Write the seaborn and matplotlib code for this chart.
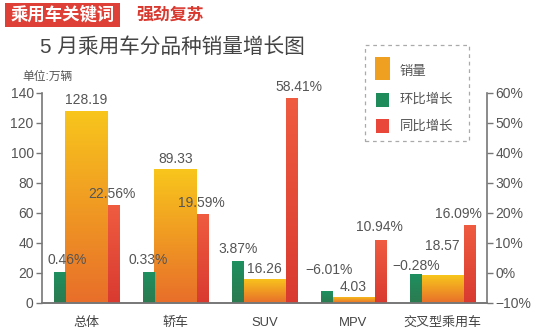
import numpy as np
import pandas as pd
import matplotlib
matplotlib.use("Agg")
import matplotlib.pyplot as plt
import seaborn as sns
from matplotlib.colors import LinearSegmentedColormap
from matplotlib.patches import Rectangle

categories = ["总体", "轿车", "SUV", "MPV", "交叉型乘用车"]
sales = [128.19, 89.33, 16.26, 4.03, 18.57]
mom = [0.46, 0.33, 3.87, -6.01, -0.28]
yoy = [22.56, 19.59, 58.41, 10.94, 16.09]
sales_labels = ["128.19", "89.33", "16.26", "4.03", "18.57"]
mom_labels = ["0.46%", "0.33%", "3.87%", "−6.01%", "−0.28%"]
yoy_labels = ["22.56%", "19.59%", "58.41%", "10.94%", "16.09%"]
left_ticks = [0, 20, 40, 60, 80, 100, 120, 140]
right_ticks = [-10, 0, 10, 20, 30, 40, 50, 60]
legend_names = ["销量", "环比增长", "同比增长"]

sns.set_theme(style="white")
plt.rcParams['font.family'] = ['Liberation Sans', 'Noto Sans CJK SC']
plt.rcParams['axes.unicode_minus'] = True

W, H = 550, 334
fig = plt.figure(figsize=(5.5, 3.34), dpi=100)
fig.patch.set_facecolor("white")

def fx(px):
    return px / W

def fy(py):
    return 1 - py / H

ax = fig.add_axes([fx(42), fy(303), fx(487) - fx(42), fy(93) - fy(303)])
ax2 = ax.twinx()

df = pd.DataFrame({"cat": categories, "sales": sales})
sns.barplot(data=df, x="cat", y="sales", ax=ax, width=0.475, color="#F0A020",
            saturation=1, edgecolor="none", errorbar=None)

xs = np.arange(len(categories))
gw = 0.124
gbars = ax2.bar(xs - 0.2995, np.array(mom) + 10, bottom=-10, width=gw, color="#1F8A5A", edgecolor="none")
rbars = ax2.bar(xs + 0.2995, np.array(yoy) + 10, bottom=-10, width=gw, color="#E8473A", edgecolor="none")

def set_limits():
    ax.set_xlim(-0.5, 4.5)
    ax.set_ylim(0, 140)
    ax2.set_ylim(-10, 60)
    ax2.set_xlim(-0.5, 4.5)

set_limits()

def gradient(axis, patches, bottom_col, top_col):
    cmap = LinearSegmentedColormap.from_list("g", [bottom_col, top_col])
    grad = np.linspace(0, 1, 256).reshape(-1, 1)
    for p in patches:
        x, y = p.get_x(), p.get_y()
        w, h = p.get_width(), p.get_height()
        im = axis.imshow(grad, extent=[x, x + w, y, y + h], origin="lower",
                         aspect="auto", cmap=cmap, zorder=p.get_zorder() + 0.1)
        im.set_clip_path(p)

gradient(ax, list(ax.patches), "#E86E2A", "#F8C61C")
gradient(ax2, list(gbars), "#2C7A50", "#1E9060")
gradient(ax2, list(rbars), "#D93A30", "#EF5C40")
set_limits()

tc = "#555555"
fs = 10
k = 0.72  # px -> pt
# per-label offsets (dx, dy) in pixels of label centre relative to bar top centre
sales_off = [(0, 11), (0, 10), (0, 10), (0, 10), (0, 29)]
mom_off = [(7.5, 12), (-1, 12), (0, 12), (2, 21), (0, 8)]
yoy_off = [(-1.5, 11), (-1, 11), (8, 11), (-1, 13), (-11, 11)]
for i, p in enumerate(ax.patches):
    dx, dy = sales_off[i]
    ax.annotate(sales_labels[i], (p.get_x() + p.get_width() / 2, p.get_height()),
                xytext=(dx * k, dy * k), textcoords="offset points", ha="center", va="center",
                fontsize=fs, color=tc)
for i, p in enumerate(gbars):
    dx, dy = mom_off[i]
    ax2.annotate(mom_labels[i], (p.get_x() + p.get_width() / 2, mom[i]),
                 xytext=(dx * k, dy * k), textcoords="offset points", ha="center", va="center",
                 fontsize=fs, color=tc)
for i, p in enumerate(rbars):
    dx, dy = yoy_off[i]
    ax2.annotate(yoy_labels[i], (p.get_x() + p.get_width() / 2, yoy[i]),
                 xytext=(dx * k, dy * k), textcoords="offset points", ha="center", va="center",
                 fontsize=fs, color=tc)

spine_c = "#777777"
for a in (ax, ax2):
    a.spines["top"].set_visible(False)
    a.spines["bottom"].set_color(spine_c)
    a.spines["bottom"].set_linewidth(1.2)
ax.spines["right"].set_visible(False)
ax.spines["left"].set_color(spine_c)
ax.spines["left"].set_linewidth(1.2)
ax2.spines["left"].set_visible(False)
ax2.spines["right"].set_color(spine_c)
ax2.spines["right"].set_linewidth(1.2)
ax.grid(False)
ax2.grid(False)

ax.set_yticks(left_ticks)
ax.set_yticklabels([str(t) for t in left_ticks])
ax.tick_params(axis="y", which="both", left=True, direction="out", length=4, width=1,
               color=spine_c, labelsize=10, labelcolor=tc, pad=2)
ax2.set_yticks(right_ticks)
ax2.set_yticklabels([(f"{t}%" if t >= 0 else f"−{abs(t)}%") for t in right_ticks])
ax2.tick_params(axis="y", which="both", right=True, direction="out", length=4, width=1,
                color=spine_c, labelsize=10, labelcolor=tc, pad=2)
ax.set_xticks(xs)
ax.set_xticklabels(categories)
ax.tick_params(axis="x", bottom=False, labelsize=9.4, labelcolor="#444444", pad=4)
ax.set_xlabel("")
ax.set_ylabel("")
ax2.set_ylabel("")

# header
fig.patches.append(Rectangle((fx(5), fy(27)), fx(120) - fx(5), fy(3) - fy(27),
                             transform=fig.transFigure, facecolor="#DE3F36", edgecolor="none"))
fig.text(fx(63), fy(15), "乘用车关键词", ha="center", va="center", color="white",
         fontsize=12.5, fontweight="bold", family="Noto Sans CJK SC")
fig.text(fx(136), fy(15), "强劲复苏", ha="left", va="center", color="#D9382E",
         fontsize=12.2, fontweight="bold", family="Noto Sans CJK SC")
fig.text(fx(40), fy(47), "5 月乘用车分品种销量增长图", ha="left", va="center", color="#444444",
         fontsize=14.9)
fig.text(fx(22), fy(77), "单位:万辆", ha="left", va="center", color="#555555", fontsize=8.5)

# legend
fig.patches.append(Rectangle((fx(365), fy(141)), fx(469) - fx(365), fy(45) - fy(141),
                             transform=fig.transFigure, facecolor="white", edgecolor="#AAAAAA",
                             linestyle=(0, (3, 3)), linewidth=0.9))
sw = [((375, 57), (390, 80), "#F0A020"), ((376, 93), (389, 107), "#1F8A5A"), ((376, 119), (389, 133), "#E8473A")]
ty = [72, 100, 127]
for (p0, p1, c), name, yy in zip(sw, legend_names, ty):
    fig.patches.append(Rectangle((fx(p0[0]), fy(p1[1])), fx(p1[0]) - fx(p0[0]), fy(p0[1]) - fy(p1[1]),
                                 transform=fig.transFigure, facecolor=c, edgecolor="none"))
    fig.text(fx(400), fy(yy), name, ha="left", va="center", color="#555555", fontsize=9.6)

fig.savefig("out.png", dpi=100, facecolor="white")
